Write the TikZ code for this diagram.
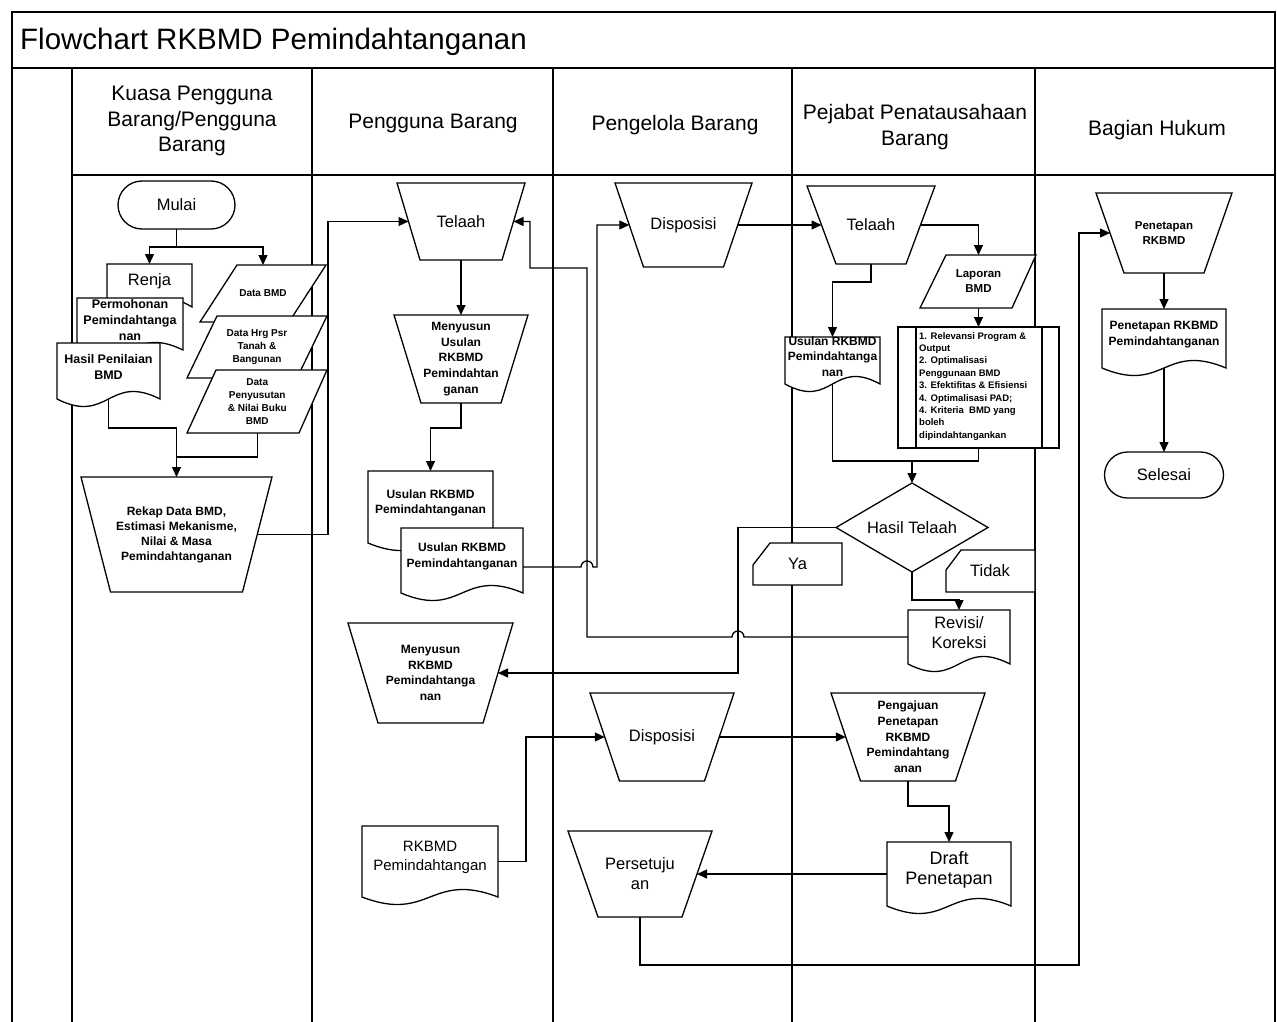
\documentclass[tikz,border=0pt]{standalone}
\usepackage{fontspec}
\setmainfont{Liberation Sans}
\usetikzlibrary{arrows.meta,shapes.misc}

\tikzset{
  shp/.style={draw, line width=1.3pt, fill=white},
  con/.style={draw, line width=1.3pt},
  arr/.style={con, -{Triangle[length=10pt,width=9pt]}},
  lane/.style={draw, line width=1.5pt},
  fcbox/.style={inner sep=0pt, outer sep=0pt, align=center},
  tTitle/.style={font=\fontsize{29.5}{34}\selectfont},
  tHead/.style={font=\fontsize{21}{25.5}\selectfont},
  tBig/.style={font=\fontsize{16.5}{20}\selectfont},
  tDraft/.style={font=\fontsize{18}{20.5}\selectfont},
  tMid/.style={font=\fontsize{15}{19}\selectfont},
  tDocB/.style={font=\fontsize{12.5}{15.8}\selectfont\bfseries},
  tSmB/.style={font=\fontsize{12}{15.7}\selectfont\bfseries},
  tRekap/.style={font=\fontsize{12}{15}\selectfont\bfseries},
  tSmC/.style={font=\fontsize{11.5}{15}\selectfont\bfseries},
  tTiny/.style={font=\fontsize{10}{13}\selectfont\bfseries},
  tList/.style={font=\fontsize{9.5}{12.4}\selectfont\bfseries},
}

% trapezium (manual operation): name, cx, ytop, ybot, top width, bottom width, style, text
\newcommand{\fcTrap}[8]{%
  \draw[shp] ({#2-#5/2},#3) -- ({#2+#5/2},#3) -- ({#2+#6/2},#4) -- ({#2-#6/2},#4) -- cycle;
  \node[fcbox, minimum width={(#5+#6)/2}, minimum height={#4-#3}, #7] (#1) at (#2,{(#3+#4)/2}) {#8};
}
% document: name, x1, x2, ytop, ybottom of sides, style, text
\newcommand{\fcDoc}[7]{%
  \draw[shp] (#2,#5) -- (#2,#4) -- (#3,#4) -- (#3,#5)
    .. controls ({(#2+#3)/2},{#5-26}) and ({(#2+#3)/2},{#5+26}) .. (#2,#5) -- cycle;
  \node[fcbox, minimum width={#3-#2}, minimum height={#5-#4}] (#1) at ({(#2+#3)/2},{(#4+#5)/2}) {};
  \node[fcbox, #6] (#1t) at ([yshift=4pt]#1.center) {#7};
}
% data (parallelogram): name, xTL, xTR, ytop, xBL, xBR, ybot, style, text
\newcommand{\fcPara}[9]{%
  \draw[shp] (#2,#4) -- (#3,#4) -- (#6,#7) -- (#5,#7) -- cycle;
  \node[fcbox, minimum width={((#3-#2)+(#6-#5))/2}, minimum height={#7-#4}, #8] (#1) at ({(#2+#3+#5+#6)/4},{(#4+#7)/2}) {#9};
}

\begin{document}
\begin{tikzpicture}[x=1pt,y=-1pt]
\fill[white] (0,0) rectangle (1277,1022);
\useasboundingbox (0,0) rectangle (1277,1022);

% frame, title and swimlanes
\draw[lane] (12,1022) -- (12,12) -- (1275,12) -- (1275,1022);
\draw[lane] (12,68) -- (1275,68);
\draw[lane] (72,175) -- (1275,175);
\foreach \lx in {72,312,553,792,1035} { \draw[lane] (\lx,68) -- (\lx,1022); }

\node[anchor=west, inner sep=0pt, tTitle] (title) at (20,42) {Flowchart RKBMD Pemindahtanganan};
\node[fcbox, tHead] (h1) at (192,121) {Kuasa Pengguna\\Barang/Pengguna\\Barang};
\node[fcbox, tHead] (h2) at (433,123) {Pengguna Barang};
\node[fcbox, tHead] (h3) at (675,125) {Pengelola Barang};
\node[fcbox, tHead] (h4) at (915,127) {Pejabat Penatausahaan\\Barang};
\node[fcbox, tHead] (h5) at (1157,130) {Bagian Hukum};

% ---- Kuasa Pengguna Barang / Pengguna Barang
\node[shp, rounded rectangle, minimum width=117pt, minimum height=48pt, inner sep=0pt, outer sep=0pt, tBig] (mulai) at (176.5,205) {Mulai};
\fcDoc{renja}{107}{192}{264}{307}{tBig}{Renja}
\fcDoc{permohonan}{77}{183}{298}{350}{tDocB}{Permohonan\\Pemindahtanga\\nan}
\fcDoc{hasilnilai}{57}{160}{343}{399}{tDocB}{Hasil Penilaian\\BMD}
\fcPara{databmd}{237}{326}{265}{200}{289}{322}{tTiny}{Data BMD}
\fcPara{datahrg}{217}{327}{316}{187}{297}{378}{tTiny}{Data Hrg Psr\\Tanah \&\\Bangunan}
\fcPara{datapeny}{216}{327}{370}{187}{299}{433}{tTiny}{Data\\Penyusutan\\\& Nilai Buku\\BMD}
\fcTrap{rekap}{176.5}{477}{592}{191}{132}{tRekap}{Rekap Data BMD,\\Estimasi Mekanisme,\\Nilai \& Masa\\Pemindahtanganan}

% ---- Pengguna Barang
\fcTrap{telaah2}{461}{183}{260}{128}{82}{tBig}{Telaah}
\fcTrap{menyusunU}{461}{315}{403}{134}{80}{tSmB}{Menyusun\\Usulan\\RKBMD\\Pemindahtan\\ganan}
\fcDoc{usulanB}{368}{493}{471}{543}{tSmB}{Usulan RKBMD\\Pemindahtanganan}
\fcDoc{usulanF}{401}{523}{528}{593}{tSmB}{Usulan RKBMD\\Pemindahtanganan}
\fcTrap{menyusunR}{430.5}{623}{723}{165}{105}{tSmB}{Menyusun\\RKBMD\\Pemindahtanga\\nan}
\fcDoc{rkbmd}{362}{498}{826}{897}{tMid}{RKBMD\\Pemindahtangan}

% ---- Pengelola Barang
\fcTrap{disp1}{683.5}{183}{267}{137}{80}{tBig}{Disposisi}
\fcTrap{disp2}{662}{693}{781}{144}{85}{tBig}{Disposisi}
\fcTrap{pers}{640}{831}{917}{144}{84}{tBig}{Persetuju\\an}

% ---- Pejabat Penatausahaan Barang
\fcTrap{telaah4}{871}{186}{264}{128}{70}{tBig}{Telaah}
\fcPara{laporan}{946}{1036}{255}{920}{1012}{308}{tSmC}{Laporan\\BMD}
\node[shp, minimum width=161pt, minimum height=121pt, inner sep=0pt, outer sep=0pt] (crit) at (978.5,387.5) {};
\draw[con] ([xshift=18pt]crit.north west) -- ([xshift=18pt]crit.south west);
\draw[con] ([xshift=-17pt]crit.north east) -- ([xshift=-17pt]crit.south east);
\node[anchor=north west, align=left, inner sep=0pt, tList] (critlist) at (919,332)
  {1. Relevansi Program \&\\Output\\2. Optimalisasi\\Penggunaan BMD\\3. Efektifitas \& Efisiensi\\4. Optimalisasi PAD;\\4. Kriteria~ BMD yang\\boleh\\dipindahtangankan};
\fcDoc{usulan4}{785}{880}{337}{384}{tSmB}{Usulan RKBMD\\Pemindahtanga\\nan}
\draw[shp] (912,483) -- (988,527.5) -- (912,572) -- (836,527.5) -- cycle;
\node[fcbox, minimum width=152pt, minimum height=89pt, tBig] (hasiltelaah) at (912,527.5) {Hasil Telaah};
\draw[shp] (753,585) -- (753,565) -- (770,543) -- (842,543) -- (842,585) -- cycle;
\node[fcbox, tBig] (ya) at (797.5,564) {Ya};
\draw[shp] (946,592) -- (946,570) -- (961,550) -- (1035,550) -- (1035,592) -- cycle;
\node[fcbox, tBig] (tidak) at (990,571) {Tidak};
\fcDoc{revisi}{908}{1010}{610}{664}{tBig}{Revisi/\\Koreksi}
\fcTrap{pengajuan}{908}{693}{781}{154}{95}{tSmB}{Pengajuan\\Penetapan\\RKBMD\\Pemindahtang\\anan}
\fcDoc{draft}{887}{1011}{842}{906}{tDraft}{Draft\\Penetapan}

% ---- Bagian Hukum
\fcTrap{penet}{1164}{193}{273}{136}{80}{tSmC}{Penetapan\\RKBMD}
\fcDoc{pendoc}{1102}{1226}{309}{368}{tSmB}{Penetapan RKBMD\\Pemindahtanganan}
\node[shp, rounded rectangle, minimum width=119pt, minimum height=46pt, inner sep=0pt, outer sep=0pt, tBig] (selesai) at (1164,475) {Selesai};

% ---- connectors
\coordinate (b0) at (176.5,247);
\draw[con] (mulai.south) -- (b0);
\draw[arr] (b0) -| (renja.north);
\draw[arr] (b0) -| (databmd.north);
\coordinate (j1) at (176.5,428);
\coordinate (j2) at (176.5,457);
\draw[con] (hasilnilai.south) |- (j1);
\draw[con] (datapeny.south) |- (j2);
\draw[arr] (j1) -- (rekap.north);
\draw[arr] (rekap.east) -| (328,300) |- (telaah2.west);

\draw[arr] (telaah2.south) -- (menyusunU.north);
\draw[arr] (menyusunU.south) -- ++(0,25) -| (usulanB.north);
\draw[arr] ([yshift=-6.5pt]usulanF.east) -- (581,567) arc[start angle=180,end angle=0,radius=6pt] -- (597,567) |- (disp1.west);
\draw[arr] (revisi.west) -- (744,637) arc[start angle=0,end angle=180,radius=6pt] -- (587,637) |- (530,268) |- (telaah2.east);
\draw[arr] (rkbmd.east) -| (526,737) -- (disp2.west);

\draw[arr] (disp1.east) -- (telaah4.west);
\draw[arr] (telaah4.east) -| (laporan.north);
\draw[arr] (telaah4.south) -- ++(0,18) -| (usulan4.north);
\draw[arr] (laporan.south) -- (crit.north);
\coordinate (j4) at (912,461);
\draw[con] (usulan4.south) |- (j4);
\draw[con] (crit.south) |- (j4);
\draw[arr] (j4) -- (hasiltelaah.north);
\draw[arr] (hasiltelaah.west) -- (738,527.5) |- (menyusunR.east);
\draw[arr] (hasiltelaah.south) -- ++(0,28) -| (revisi.north);

\draw[arr] (disp2.east) -- (pengajuan.west);
\draw[arr] (pengajuan.south) -- ++(0,25) -| (draft.north);
\draw[arr] (draft.west) -- (pers.east);
\coordinate (c5) at (1079,965);
\draw[arr] (pers.south) |- (c5) |- (penet.west);

\draw[arr] (penet.south) -- (pendoc.north);
\draw[arr] (pendoc.south) -- (selesai.north);
\end{tikzpicture}
\end{document}
